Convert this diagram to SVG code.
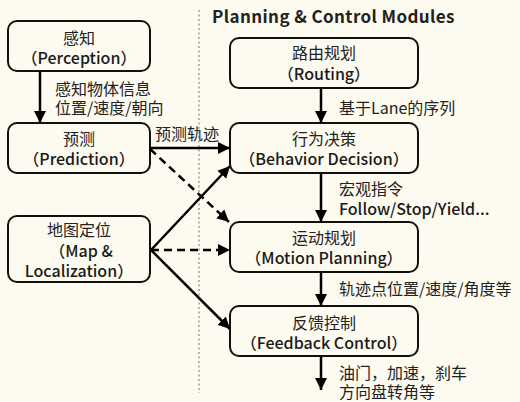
<svg xmlns="http://www.w3.org/2000/svg" width="520" height="402" viewBox="0 0 520 402">
  <style>
    text { font-family: "Noto Sans CJK SC", "Noto Sans", sans-serif; fill: #222; }
    .box { fill: none; stroke: #111; stroke-width: 2; }
    .nt { font-size: 16px; text-anchor: middle; dominant-baseline: central; }
    .en { font-weight: 500; fill: #1a1a1a; }
    .lb { font-size: 16px; dominant-baseline: central; }
    .title { font-size: 17px; font-weight: bold; letter-spacing: 0.4px; }
    .edge { fill: none; stroke: #000; stroke-width: 2.5; }
    .dash { stroke-dasharray: 8 5; }
    .sep { stroke: #b4b4b4; stroke-width: 2; stroke-dasharray: 2 2.5; }
  </style>
  <defs>
    <marker id="arrow" markerUnits="userSpaceOnUse" markerWidth="14" markerHeight="14" viewBox="0 0 14 14" refX="12" refY="7" orient="auto">
      <path d="M0,1 L12,7 L0,13 Z" fill="#000"/>
    </marker>
  </defs>
  <rect width="520" height="402" fill="#fdfaf0"/>

  <!-- divider between perception side and planning/control side -->
  <line class="sep" x1="199" y1="10" x2="199" y2="393"/>
  <text class="title" x="212" y="23">Planning &amp; Control Modules</text>

  <g id="perception">
    <rect class="box" x="8" y="21" width="142" height="50" rx="9"/>
    <text class="nt" x="79" y="37">感知</text>
    <text class="nt en" x="79" y="57">（Perception）</text>
  </g>
  <g id="prediction">
    <rect class="box" x="8" y="123" width="142" height="50" rx="9"/>
    <text class="nt" x="79" y="138">预测</text>
    <text class="nt en" x="79" y="158">（Prediction）</text>
  </g>
  <g id="map-localization">
    <rect class="box" x="8" y="216" width="142" height="66" rx="9"/>
    <text class="nt" x="79" y="229">地图定位</text>
    <text class="nt en" x="81" y="250">（Map &amp;</text>
    <text class="nt en" x="79" y="270">Localization）</text>
  </g>
  <g id="routing">
    <rect class="box" x="230" y="38" width="188" height="50" rx="9"/>
    <text class="nt" x="324" y="52">路由规划</text>
    <text class="nt en" x="324" y="73">（Routing）</text>
  </g>
  <g id="behavior-decision">
    <rect class="box" x="230" y="123" width="188" height="50" rx="9"/>
    <text class="nt" x="324" y="138">行为决策</text>
    <text class="nt en" x="324" y="158">（Behavior Decision）</text>
  </g>
  <g id="motion-planning">
    <rect class="box" x="230" y="222" width="188" height="50" rx="9"/>
    <text class="nt" x="324" y="237">运动规划</text>
    <text class="nt en" x="324" y="257">（Motion Planning）</text>
  </g>
  <g id="feedback-control">
    <rect class="box" x="230" y="306" width="188" height="50" rx="9"/>
    <text class="nt" x="324" y="322">反馈控制</text>
    <text class="nt en" x="324" y="342">（Feedback Control）</text>
  </g>

  <g id="connectors">
    <line class="edge" x1="40" y1="71" x2="40" y2="123" marker-end="url(#arrow)"/>
    <line class="edge" x1="321" y1="88" x2="321" y2="123" marker-end="url(#arrow)"/>
    <line class="edge" x1="321" y1="173" x2="321" y2="222" marker-end="url(#arrow)"/>
    <line class="edge" x1="321" y1="272" x2="321" y2="306" marker-end="url(#arrow)"/>
    <line class="edge" x1="321" y1="356" x2="321" y2="390" marker-end="url(#arrow)"/>
    <line class="edge" x1="150" y1="148" x2="230" y2="148" marker-end="url(#arrow)"/>
    <line class="edge dash" x1="150" y1="149" x2="229" y2="222" marker-end="url(#arrow)"/>
    <line class="edge" x1="151" y1="250" x2="230" y2="166" marker-end="url(#arrow)"/>
    <line class="edge dash" x1="151" y1="250" x2="230" y2="250" marker-end="url(#arrow)"/>
    <line class="edge" x1="151" y1="250" x2="230" y2="329" marker-end="url(#arrow)"/>

    <text class="lb" x="55" y="88">感知物体信息</text>
    <text class="lb" x="55" y="107">位置/速度/朝向</text>
    <text class="lb" x="155" y="133">预测轨迹</text>
    <text class="lb" x="339" y="107">基于Lane的序列</text>
    <text class="lb" x="339" y="188">宏观指令</text>
    <text class="lb en" x="339" y="208">Follow/Stop/Yield...</text>
    <text class="lb" x="339" y="288">轨迹点位置/速度/角度等</text>
    <text class="lb" x="339" y="372">油门，加速，刹车</text>
    <text class="lb" x="339" y="391">方向盘转角等</text>
  </g>
</svg>
